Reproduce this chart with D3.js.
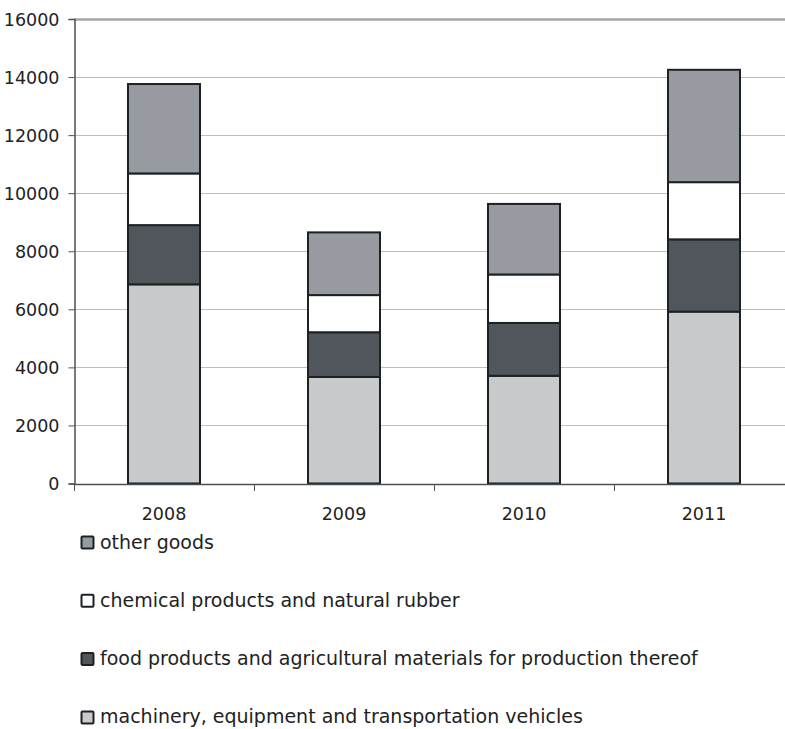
<!DOCTYPE html>
<html><head><meta charset="utf-8">
<script src="https://cdn.jsdelivr.net/npm/d3@7"></script>
<style>body{margin:0;background:#fff}svg{display:block}</style>
</head><body>
<svg id="c" width="785" height="729"></svg>
<script>
const years = ["2008", "2009", "2010", "2011"];
const machinery = [6860, 3670, 3710, 5920];
const food = [2040, 1540, 1820, 2490];
const chemical = [1780, 1280, 1670, 1970];
const other = [3080, 2160, 2430, 3870];
const seriesNames = ["machinery, equipment and transportation vehicles",
  "food products and agricultural materials for production thereof",
  "chemical products and natural rubber",
  "other goods"];
const seriesColors = ["#c8c9cb", "#50565c", "#ffffff", "#979aa0"];
const yTicks = [0, 2000, 4000, 6000, 8000, 10000, 12000, 14000, 16000];

const font = "'DejaVu Sans', sans-serif";
const svg = d3.select("#c");
const x = d3.scaleBand().domain(years).range([74, 794]).paddingInner(0.6).paddingOuter(0.3);
const y = d3.scaleLinear().domain([0, 16000]).range([483.5, 19]);

const rows = years.map((yr, i) => ({year: yr, s0: machinery[i], s1: food[i], s2: chemical[i], s3: other[i]}));
const stack = d3.stack().keys(["s0", "s1", "s2", "s3"])(rows);

// gridlines
svg.append("g").selectAll("line").data(yTicks.filter(t => t > 0)).join("line")
  .attr("x1", 74).attr("x2", 785)
  .attr("y1", d => Math.round(y(d)) + 0.5).attr("y2", d => Math.round(y(d)) + 0.5)
  .attr("stroke", d => d === 16000 ? "#a3a6aa" : "#bdbdbd")
  .attr("stroke-width", d => d === 16000 ? 2.5 : 1);

// bars
svg.append("g").selectAll("g").data(stack).join("g")
  .attr("fill", (d, i) => seriesColors[i])
  .selectAll("rect").data(d => d).join("rect")
  .attr("x", d => x(d.data.year))
  .attr("width", x.bandwidth())
  .attr("y", d => y(d[1]))
  .attr("height", d => y(d[0]) - y(d[1]))
  .attr("stroke", "#1c2124").attr("stroke-width", 2);

// y axis
const yAxis = d3.axisLeft(y).tickValues(yTicks).tickSize(6).tickPadding(9).tickFormat(d3.format("d"));
const gy = svg.append("g").attr("transform", "translate(74.5,0)").call(yAxis);
gy.select(".domain").attr("stroke", "#4b5055").attr("stroke-width", 1.5);
gy.selectAll(".tick line").attr("stroke", "#4b5055");
gy.selectAll("text").attr("font-family", font).attr("font-size", 17.5).attr("fill", "#222").attr("dy", "0.36em");

// x axis
const xAxis = d3.axisBottom(x).tickSize(0).tickPadding(24);
const gx = svg.append("g").attr("transform", "translate(0,484)").call(xAxis);
gx.select(".domain").attr("stroke", "#4b5055").attr("stroke-width", 1.5);
gx.selectAll("text").attr("font-family", font).attr("font-size", 17.5).attr("fill", "#222");
const bounds = [74, 254, 434, 614];
gx.selectAll(".sep").data(bounds).join("line").attr("class", "sep")
  .attr("x1", d => d + 0.5).attr("x2", d => d + 0.5).attr("y1", 0).attr("y2", 7)
  .attr("stroke", "#4b5055");

// legend
const legendOrder = [3, 2, 1, 0];
const lg = svg.append("g").selectAll("g").data(legendOrder).join("g")
  .attr("transform", (d, i) => `translate(81,${536 + i * 58.3})`);
lg.append("rect").attr("x", 0.5).attr("y", 0.5).attr("width", 12).attr("height", 12)
  .attr("fill", d => seriesColors[d]).attr("stroke", "#1c2124").attr("stroke-width", 2).attr("rx", 1);
lg.append("text").attr("x", 19).attr("y", 12.5).text(d => seriesNames[d])
  .attr("font-family", font).attr("font-size", 19).attr("fill", "#222");
</script>
</body></html>
